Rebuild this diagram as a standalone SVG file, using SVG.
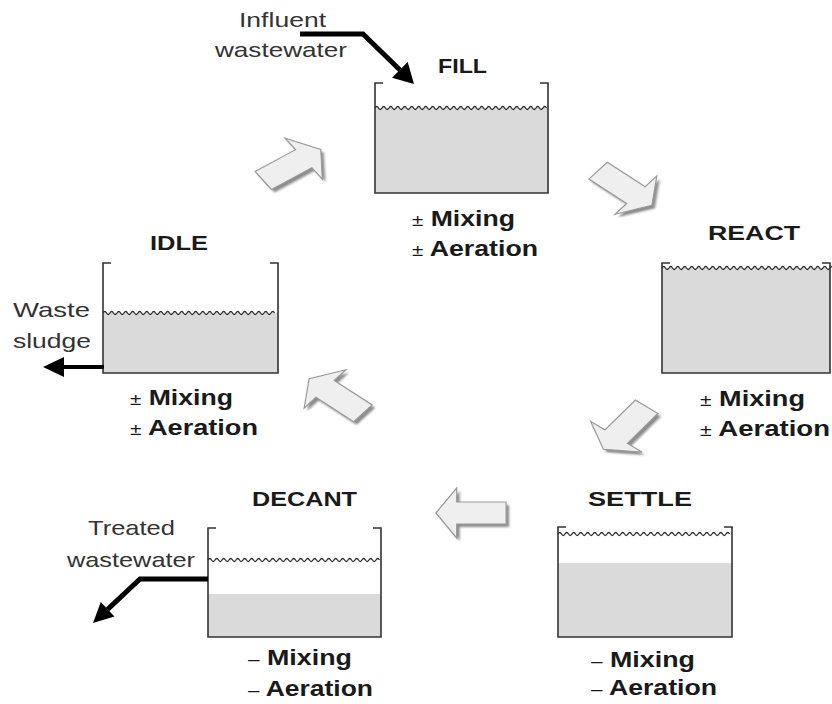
<svg xmlns="http://www.w3.org/2000/svg" xmlns:xlink="http://www.w3.org/1999/xlink" width="832" height="704" viewBox="0 0 832 704">
<style>
text{font-family:"Liberation Sans",Arial,sans-serif;fill:#1a1a1a}
.lbl{font-size:21px;font-weight:bold}
.reg{font-size:21px;font-weight:normal;fill:#333}
.op{font-size:22px;font-weight:bold}
.sym{font-weight:normal;font-size:17px}
.wall{fill:none;stroke:#333;stroke-width:1.6}
.liq{fill:#dadada}
.wave{fill:none;stroke:#2a2a2a;stroke-width:1.3}
.ba{fill:#efefef;stroke:#9a9a9a;stroke-width:1.2}
.bs{fill:#8c8c8c;filter:url(#blur)}
.flow{fill:none;stroke:#000;stroke-width:5;stroke-linejoin:miter}
.head{fill:#000}
</style>
<defs>
<filter id="blur" x="-20%" y="-20%" width="140%" height="140%"><feGaussianBlur stdDeviation="1"/></filter>
<path id="barrow" vector-effect="non-scaling-stroke" d="M-27,-11 L11,-11 L11,-25 L27,0 L11,25 L11,11 L-27,11 Z"/>
<path id="wv" d="M0,0 q1.75,-3 3.5,0 t3.5,0 t3.5,0 t3.5,0 t3.5,0 t3.5,0 t3.5,0 t3.5,0 t3.5,0 t3.5,0 t3.5,0 t3.5,0 t3.5,0 t3.5,0 t3.5,0 t3.5,0 t3.5,0 t3.5,0 t3.5,0 t3.5,0 t3.5,0 t3.5,0 t3.5,0 t3.5,0 t3.5,0 t3.5,0 t3.5,0 t3.5,0 t3.5,0 t3.5,0 t3.5,0 t3.5,0 t3.5,0 t3.5,0 t3.5,0 t3.5,0 t3.5,0 t3.5,0 t3.5,0 t3.5,0 t3.5,0 t3.5,0 t3.5,0 t3.5,0 t3.5,0 t3.5,0 t3.5,0 t3.5,0 t3.5,0"/>
</defs>

<g id="fill">
<rect class="liq" x="375" y="108" width="173" height="85"/>
<use href="#wv" class="wave" transform="translate(375,108)"/>
<path class="wall" d="M383,83 H375 V193 H548 V83 H540"/>
<text class="lbl" x="438" y="73" textLength="49" lengthAdjust="spacingAndGlyphs">FILL</text>
<text class="op" x="412" y="226" textLength="103" lengthAdjust="spacingAndGlyphs"><tspan class="sym">±</tspan> Mixing</text>
<text class="op" x="412" y="256" textLength="126" lengthAdjust="spacingAndGlyphs"><tspan class="sym">±</tspan> Aeration</text>
</g>

<g id="react">
<rect class="liq" x="662" y="268" width="168" height="105"/>
<use href="#wv" class="wave" transform="translate(662,268)"/>
<path class="wall" d="M670,263 H662 V373 H830 V263 H822"/>
<text class="lbl" x="708" y="240" textLength="92" lengthAdjust="spacingAndGlyphs">REACT</text>
<text class="op" x="700" y="406" textLength="105" lengthAdjust="spacingAndGlyphs"><tspan class="sym">±</tspan> Mixing</text>
<text class="op" x="700" y="436" textLength="130" lengthAdjust="spacingAndGlyphs"><tspan class="sym">±</tspan> Aeration</text>
</g>

<g id="settle">
<rect class="liq" x="558" y="563" width="174" height="74"/>
<use href="#wv" class="wave" transform="translate(558,534)"/>
<path class="wall" d="M566,527 H558 V637 H732 V527 H724"/>
<text class="lbl" x="588" y="506" textLength="104" lengthAdjust="spacingAndGlyphs">SETTLE</text>
<text class="op" x="591" y="667" textLength="104" lengthAdjust="spacingAndGlyphs"><tspan class="sym">–</tspan> Mixing</text>
<text class="op" x="591" y="695" textLength="126" lengthAdjust="spacingAndGlyphs"><tspan class="sym">–</tspan> Aeration</text>
</g>

<g id="decant">
<rect class="liq" x="208" y="594" width="173" height="43"/>
<use href="#wv" class="wave" transform="translate(208,560)"/>
<path class="wall" d="M216,528 H208 V637 H381 V528 H373"/>
<text class="lbl" x="252" y="506" textLength="105" lengthAdjust="spacingAndGlyphs">DECANT</text>
<text class="reg" x="88" y="535" textLength="87" lengthAdjust="spacingAndGlyphs">Treated</text>
<text class="reg" x="67" y="567" textLength="128" lengthAdjust="spacingAndGlyphs">wastewater</text>
<text class="op" x="248" y="665" textLength="104" lengthAdjust="spacingAndGlyphs"><tspan class="sym">–</tspan> Mixing</text>
<text class="op" x="248" y="696" textLength="125" lengthAdjust="spacingAndGlyphs"><tspan class="sym">–</tspan> Aeration</text>
</g>

<g id="idle">
<rect class="liq" x="103" y="313" width="175" height="60"/>
<use href="#wv" class="wave" transform="translate(103,313)"/>
<path class="wall" d="M111,263 H103 V373 H278 V263 H270"/>
<text class="lbl" x="150" y="250" textLength="58" lengthAdjust="spacingAndGlyphs">IDLE</text>
<text class="reg" x="13" y="317" textLength="77" lengthAdjust="spacingAndGlyphs">Waste</text>
<text class="reg" x="13" y="348" textLength="78" lengthAdjust="spacingAndGlyphs">sludge</text>
<text class="op" x="130" y="405" textLength="103" lengthAdjust="spacingAndGlyphs"><tspan class="sym">±</tspan> Mixing</text>
<text class="op" x="130" y="435" textLength="128" lengthAdjust="spacingAndGlyphs"><tspan class="sym">±</tspan> Aeration</text>
</g>

<g id="influent">
<text class="reg" x="239" y="27" textLength="87" lengthAdjust="spacingAndGlyphs">Influent</text>
<text class="reg" x="215" y="57" textLength="132" lengthAdjust="spacingAndGlyphs">wastewater</text>
</g>

<g id="connectors">
<use href="#barrow" class="bs" transform="translate(295,168) scale(1.3,1) rotate(-35)"/>
<use href="#barrow" class="ba" transform="translate(292,165) scale(1.3,1) rotate(-35)"/>
<use href="#barrow" class="bs" transform="translate(628,191) scale(1.3,1) rotate(40)"/>
<use href="#barrow" class="ba" transform="translate(625,188) scale(1.3,1) rotate(40)"/>
<use href="#barrow" class="bs" transform="translate(628,431) scale(1.3,1) rotate(128)"/>
<use href="#barrow" class="ba" transform="translate(625,428) scale(1.3,1) rotate(128)"/>
<use href="#barrow" class="bs" transform="translate(474,516) scale(1.3,1) rotate(180)"/>
<use href="#barrow" class="ba" transform="translate(471,513) scale(1.3,1) rotate(180)"/>
<use href="#barrow" class="bs" transform="translate(339,399) scale(1.3,1) rotate(-140)"/>
<use href="#barrow" class="ba" transform="translate(336,396) scale(1.3,1) rotate(-140)"/>

<polyline class="flow" points="300,34 363,34 400,70"/>
<polygon class="head" points="414,84 392,77.7 407.7,62"/>
<line class="flow" x1="104" y1="367" x2="62" y2="367" style="stroke-width:4"/>
<polygon class="head" points="43,367 64,357 64,377"/>
<polyline class="flow" points="208,579 140,579 107.6,609.3"/>
<polygon class="head" points="93,623 114.4,616.6 100.8,602"/>
</g>
</svg>
